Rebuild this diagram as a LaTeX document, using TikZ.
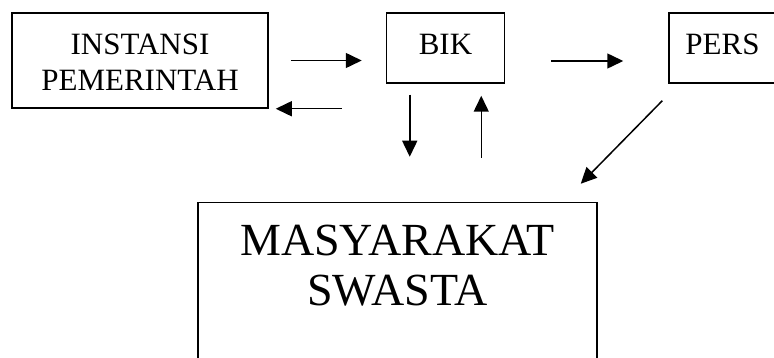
\documentclass[tikz,border=0pt]{standalone}
\usepackage{fontspec}
\setmainfont{Liberation Serif}
\usetikzlibrary{arrows.meta,positioning,calc}

\begin{document}
\begin{tikzpicture}[>={Triangle[length=16pt,width=15pt]},line width=1.5pt]
\tikzset{
	unit box/.style={rectangle,draw,inner sep=0pt,align=center,font=\fontsize{31}{36}\selectfont},
	top box/.style={unit box,minimum height=70pt,text height=24pt,text depth=10pt},
	big box/.style={rectangle,draw,inner sep=0pt,align=center,font=\fontsize{46}{50}\selectfont}
}
\useasboundingbox (0,0) rectangle (774pt,-358pt);

      \node[unit box,minimum width=256pt,minimum height=95pt,text height=65pt,text depth=4pt] (inst) at (140pt,-60.5pt) {INSTANSI\\PEMERINTAH};
      \node[top box,minimum width=118pt] (bik) [right=117pt of inst.north east,anchor=north west] {BIK};
      \node[top box,minimum width=107pt] (pers) [right=163pt of bik.north east,anchor=north west] {PERS};
      \node[big box,minimum width=399pt,minimum height=230pt,text height=85pt,text depth=109pt] (mas) [below right=93pt and 186pt of inst.south west] {MASYARAKAT\\SWASTA};

    \path[->] (inst.east) edge[shorten <=22pt,shorten >=24pt] (inst.east -| bik.west);
    \path[->] (inst.south east -| bik.west) edge[shorten <=44pt,shorten >=7pt] (inst.south east);
    \path[->] ([yshift=-13pt]bik.east) edge[shorten <=46pt,shorten >=45pt] ([yshift=-13pt]pers.west);
    \path[->] ([xshift=24pt]bik.south west) edge[shorten <=11pt,shorten >=45pt] ([xshift=24pt]bik.south west |- mas.north);
    \path[->] ([xshift=-24pt]bik.south east |- mas.north) edge[shorten <=44pt,shorten >=12pt] ([xshift=-24pt]bik.south east);
    \path[->] ([shift={(-6pt,-17pt)}]pers.south west) edge ([shift={(-17pt,18pt)}]mas.north east);
\end{tikzpicture}
\end{document}
